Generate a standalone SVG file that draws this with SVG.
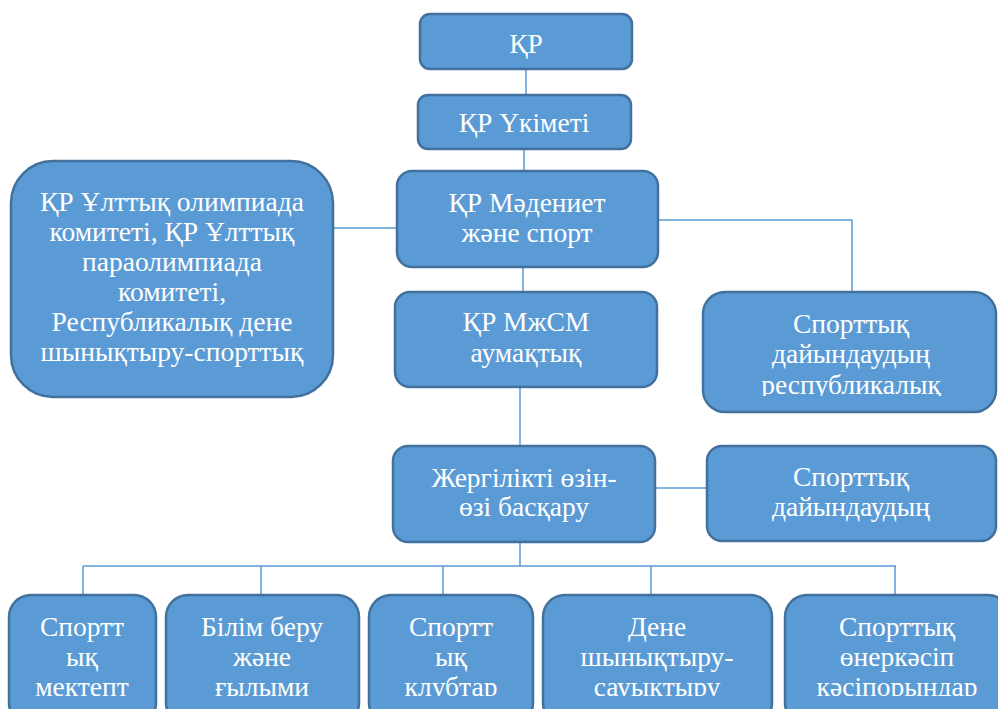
<svg xmlns="http://www.w3.org/2000/svg" width="998" height="709" viewBox="0 0 998 709">
<defs>
<style>
.box{fill:#5B9BD5;stroke:#41719C;stroke-width:2.5}
.t{font-size:27.5px;fill:#ffffff;text-anchor:middle}
.c{stroke:#5B9BD5;stroke-width:1.5;fill:none}
</style>
<clipPath id="cl-left"><rect x="11" y="161" width="322" height="218"/></clipPath>
<clipPath id="cl-right"><rect x="703" y="292" width="293" height="104"/></clipPath>
<clipPath id="cl-bot"><rect x="0" y="595" width="998" height="101"/></clipPath>
</defs>
<g id="connectors">
<path class="c" d="M526 69V95M524 149V171M523 267V292M333 228H397M659 220H852V293M520 388V446M656 488H707M520 542V566M83 566H896M83 566V595M261 566V595M443 566V595M651 566V595M895 566V595"/>
</g>
<g id="n-kr" font-family="Liberation Serif">
<rect class="box" x="420" y="14" width="212" height="55" rx="10"/>
<text class="t" x="526" y="53" style="font-family:'Liberation Serif',serif">ҚР</text>
</g>
<g id="n-ukimet" font-family="Liberation Serif">
<rect class="box" x="418" y="95" width="213" height="54" rx="10"/>
<text class="t" x="524" y="132" style="font-family:'Liberation Serif',serif">ҚР Үкіметі</text>
</g>
<g id="n-madeniet" font-family="Liberation Serif">
<rect class="box" x="397" y="171" width="261" height="96" rx="15"/>
<text class="t" x="527" y="212" style="font-family:'Liberation Serif',serif">ҚР Мәдениет</text>
<text class="t" x="527" y="242" style="font-family:'Liberation Serif',serif">және спорт</text>
</g>
<g id="n-olimp" font-family="Liberation Serif">
<rect class="box" x="11" y="161" width="322" height="236" rx="42"/>
<g clip-path="url(#cl-left)">
<text class="t" x="172" y="211" style="font-family:'Liberation Serif',serif">ҚР Ұлттық олимпиада</text>
<text class="t" x="172" y="241" style="font-family:'Liberation Serif',serif">комитеті, ҚР Ұлттық</text>
<text class="t" x="172" y="271" style="font-family:'Liberation Serif',serif">параолимпиада</text>
<text class="t" x="172" y="301" style="font-family:'Liberation Serif',serif">комитеті,</text>
<text class="t" x="172" y="331" style="font-family:'Liberation Serif',serif">Республикалық дене</text>
<text class="t" x="172" y="361" style="font-family:'Liberation Serif',serif">шынықтыру-спорттық</text>
</g>
</g>
<g id="n-mzhsm" font-family="Liberation Serif">
<rect class="box" x="395" y="292" width="262" height="95" rx="15"/>
<text class="t" x="526" y="331" style="font-family:'Liberation Serif',serif">ҚР МжСМ</text>
<text class="t" x="526" y="362" style="font-family:'Liberation Serif',serif">аумақтық</text>
</g>
<g id="n-resp" font-family="Liberation Serif">
<rect class="box" x="703" y="292" width="293" height="120" rx="22"/>
<g clip-path="url(#cl-right)">
<text class="t" x="851" y="333" style="font-family:'Liberation Serif',serif">Спорттық</text>
<text class="t" x="851" y="363" style="font-family:'Liberation Serif',serif">дайындаудың</text>
<text class="t" x="851" y="394" style="font-family:'Liberation Serif',serif">республикалық</text>
</g>
</g>
<g id="n-zhergilikti" font-family="Liberation Serif">
<rect class="box" x="393" y="446" width="262" height="96" rx="15"/>
<text class="t" x="524" y="487" style="font-family:'Liberation Serif',serif">Жергілікті өзін-</text>
<text class="t" x="524" y="516" style="font-family:'Liberation Serif',serif">өзі басқару</text>
</g>
<g id="n-dayyn" font-family="Liberation Serif">
<rect class="box" x="707" y="446" width="289" height="95" rx="15"/>
<text class="t" x="851" y="486" style="font-family:'Liberation Serif',serif">Спорттық</text>
<text class="t" x="851" y="516" style="font-family:'Liberation Serif',serif">дайындаудың</text>
</g>
<g id="n-b1" font-family="Liberation Serif">
<rect class="box" x="9" y="595" width="147" height="130" rx="22"/>
<g clip-path="url(#cl-bot)">
<text class="t" x="82" y="636" style="font-family:'Liberation Serif',serif">Спортт</text>
<text class="t" x="82" y="666" style="font-family:'Liberation Serif',serif">ық</text>
<text class="t" x="82" y="696" style="font-family:'Liberation Serif',serif">мектепт</text>
</g>
</g>
<g id="n-b2" font-family="Liberation Serif">
<rect class="box" x="166" y="595" width="193" height="130" rx="22"/>
<g clip-path="url(#cl-bot)">
<text class="t" x="262" y="636" style="font-family:'Liberation Serif',serif">Білім беру</text>
<text class="t" x="262" y="666" style="font-family:'Liberation Serif',serif">және</text>
<text class="t" x="262" y="696" style="font-family:'Liberation Serif',serif">ғылыми</text>
</g>
</g>
<g id="n-b3" font-family="Liberation Serif">
<rect class="box" x="369" y="595" width="164" height="130" rx="22"/>
<g clip-path="url(#cl-bot)">
<text class="t" x="451" y="636" style="font-family:'Liberation Serif',serif">Спортт</text>
<text class="t" x="451" y="666" style="font-family:'Liberation Serif',serif">ық</text>
<text class="t" x="451" y="696" style="font-family:'Liberation Serif',serif">клубтар</text>
</g>
</g>
<g id="n-b4" font-family="Liberation Serif">
<rect class="box" x="543" y="595" width="229" height="130" rx="22"/>
<g clip-path="url(#cl-bot)">
<text class="t" x="657" y="636" style="font-family:'Liberation Serif',serif">Дене</text>
<text class="t" x="657" y="666" style="font-family:'Liberation Serif',serif">шынықтыру-</text>
<text class="t" x="657" y="696" style="font-family:'Liberation Serif',serif">сауықтыру</text>
</g>
</g>
<g id="n-b5" font-family="Liberation Serif">
<rect class="box" x="785" y="595" width="225" height="130" rx="22"/>
<g clip-path="url(#cl-bot)">
<text class="t" x="897" y="636" style="font-family:'Liberation Serif',serif">Спорттық</text>
<text class="t" x="897" y="666" style="font-family:'Liberation Serif',serif">өнеркәсіп</text>
<text class="t" x="897" y="696" style="font-family:'Liberation Serif',serif">кәсіпорындар</text>
</g>
</g>
</svg>
